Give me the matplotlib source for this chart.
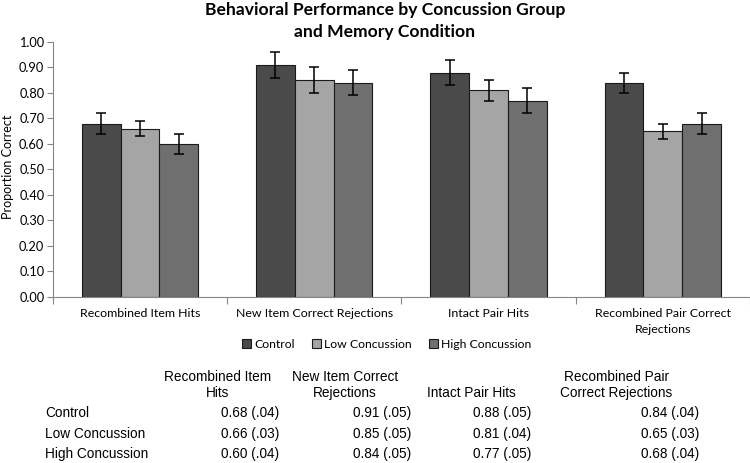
import matplotlib
matplotlib.use("Agg")
import matplotlib.pyplot as plt
import numpy as np

# data (from the table under the chart)
categories = ["Recombined Item Hits", "New Item Correct Rejections",
              "Intact Pair Hits", "Recombined Pair Correct\nRejections"]
groups = ["Control", "Low Concussion", "High Concussion"]
control = [0.68, 0.91, 0.88, 0.84]
control_se = [0.04, 0.05, 0.05, 0.04]
low = [0.66, 0.85, 0.81, 0.65]
low_se = [0.03, 0.05, 0.04, 0.03]
high = [0.60, 0.84, 0.77, 0.68]
high_se = [0.04, 0.05, 0.05, 0.04]
table_headers = ["Recombined Item\nHits", "New Item Correct\nRejections",
                 "Intact Pair Hits", "Recombined Pair\nCorrect Rejections"]

colors = ["#4a4a4a", "#a5a5a5", "#6f6f6f"]
chart_font = ["Lato", "DejaVu Sans"]
table_font = ["Liberation Sans Narrow", "Liberation Sans", "DejaVu Sans"]

W, H = 750, 463
fig = plt.figure(figsize=(7.5, 4.63), dpi=100)
ax = fig.add_axes([52.7 / W, 1 - 296.7 / H, (750 - 52.7) / W, (296.7 - 42) / H])

x = np.arange(len(categories))
width = 0.222
series = [(control, control_se), (low, low_se), (high, high_se)]
for i, (vals, se) in enumerate(series):
    ax.bar(x + (i - 1) * width, vals, width, color=colors[i], edgecolor="#1a1a1a",
           linewidth=0.8, label=groups[i], zorder=2)
    ax.errorbar(x + (i - 1) * width, vals, yerr=se, fmt="none", ecolor="black",
                elinewidth=1.1, capsize=3.5, capthick=1.1, zorder=3)

ax.set_xlim(-0.5, len(categories) - 0.5)
ax.set_ylim(0, 1.0)
ax.set_yticks(np.arange(0, 1.01, 0.1))
ax.set_yticklabels([f"{v:.2f}" for v in np.arange(0, 1.01, 0.1)],
                   fontsize=9.2, family=chart_font)
ax.set_xticks(np.arange(-0.5, len(categories)), minor=False)
ax.set_xticklabels([])
ax.tick_params(axis="x", length=5, color="#868686", width=0.8)
ax.tick_params(axis="y", length=4, color="#868686", width=0.8, pad=2)
for i, c in enumerate(categories):
    ax.text(i, -0.045, c, ha="center", va="top", fontsize=8.9, family=chart_font,
            transform=ax.get_xaxis_transform(), linespacing=1.5)
for s in ["top", "right"]:
    ax.spines[s].set_visible(False)
for s in ["left", "bottom"]:
    ax.spines[s].set_color("#868686")
    ax.spines[s].set_linewidth(0.8)

ax.set_ylabel("Proportion Correct", fontsize=9, family=chart_font)
ax.yaxis.set_label_coords(-0.055, 0.51)

fig.text(385 / W, 1 - 21 / H, "Behavioral Performance by Concussion Group\nand Memory Condition",
         ha="center", va="center", fontsize=12.6, fontweight="bold", family=chart_font,
         linespacing=1.5)

handles, labels = ax.get_legend_handles_labels()
fig.legend(handles, labels, loc="center", bbox_to_anchor=(387 / W, 1 - 344 / H), ncol=3,
           frameon=False, prop={"family": chart_font, "size": 8.8}, handlelength=0.7,
           handleheight=0.7, handletextpad=0.3, columnspacing=1.4)

# table under the chart
header_x = [218, 345, 471, 616]
value_right = [279, 411, 531, 699]
row_y = [413, 434, 454]
rows = [control, low, high]
row_se = [control_se, low_se, high_se]
for j, hdr in enumerate(table_headers):
    yy = 393 if "\n" not in hdr else 385
    fig.text(header_x[j] / W, 1 - yy / H, hdr, ha="center", va="center",
             fontsize=9.8, family=table_font, linespacing=1.15)
for r, name in enumerate(groups):
    fig.text(45 / W, 1 - row_y[r] / H, name, ha="left", va="center",
             fontsize=9.8, family=table_font)
    for j in range(len(categories)):
        se = f"{row_se[r][j]:.2f}".lstrip("0")
        fig.text(value_right[j] / W, 1 - row_y[r] / H, f"{rows[r][j]:.2f} ({se})",
                 ha="right", va="center", fontsize=9.8, family=table_font)

fig.savefig("out.png", dpi=100, facecolor="white")
